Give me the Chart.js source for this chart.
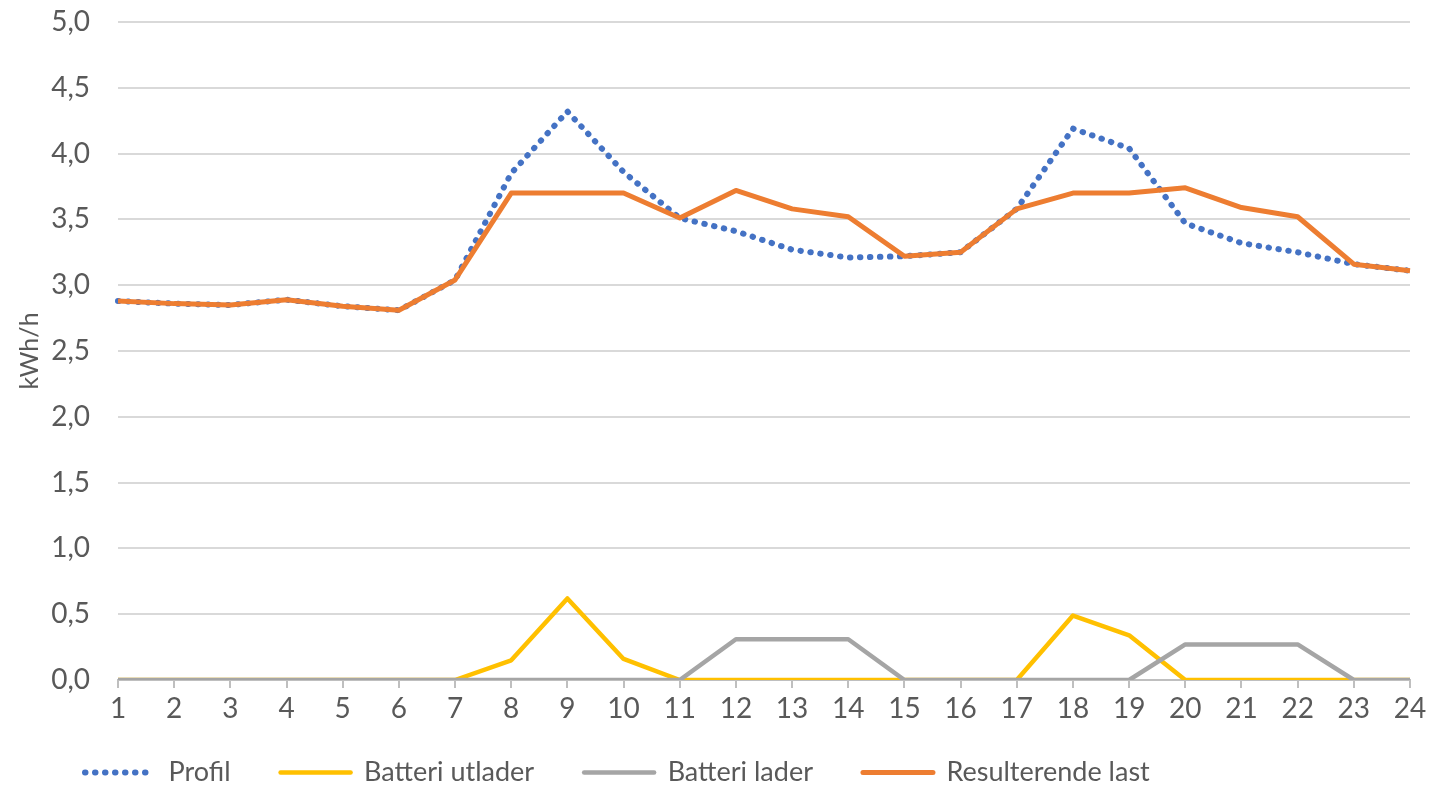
<!DOCTYPE html>
<html>
<head>
<meta charset="utf-8">
<script src="https://cdn.jsdelivr.net/npm/chart.js@4/dist/chart.umd.min.js"></script>
<style>
  body { margin: 0; background: #fff; }
</style>
</head>
<body>
<canvas id="chart" width="1432" height="792"></canvas>
<script>
const hours = ["1","2","3","4","5","6","7","8","9","10","11","12","13","14","15","16","17","18","19","20","21","22","23","24"]

const profil = [2.88, 2.86, 2.85, 2.89, 2.84, 2.81, 3.04, 3.85, 4.32, 3.86, 3.51, 3.41, 3.27, 3.21, 3.22, 3.25, 3.58, 4.19, 4.04, 3.47, 3.32, 3.25, 3.16, 3.11]
const batteriUtlader = [0, 0, 0, 0, 0, 0, 0, 0.15, 0.62, 0.16, 0, 0, 0, 0, 0, 0, 0, 0.49, 0.34, 0, 0, 0, 0, 0]
const batteriLader = [0, 0, 0, 0, 0, 0, 0, 0, 0, 0, 0, 0.31, 0.31, 0.31, 0, 0, 0, 0, 0, 0.27, 0.27, 0.27, 0, 0]
const resulterendeLast = [2.88, 2.86, 2.85, 2.89, 2.84, 2.81, 3.04, 3.70, 3.70, 3.70, 3.51, 3.72, 3.58, 3.52, 3.22, 3.25, 3.58, 3.70, 3.70, 3.74, 3.59, 3.52, 3.16, 3.11]

const yTicks = [0, 0.5, 1, 1.5, 2, 2.5, 3, 3.5, 4, 4.5, 5]

const textColor = "#595959"
const fontName = "Lato"

Chart.defaults.font.family = fontName
Chart.defaults.color = textColor

let datasets = [
    {
        label: "Profil",
        data: profil,
        borderColor: "#4472C4",
        backgroundColor: "#4472C4",
        borderWidth: 6,
        borderDash: [0.5, 9.5],
        borderCapStyle: "round",
        order: 4
    },
    {
        label: "Batteri utlader",
        data: batteriUtlader,
        borderColor: "#FFC000",
        backgroundColor: "#FFC000",
        borderWidth: 4.5,
        order: 3
    },
    {
        label: "Batteri lader",
        data: batteriLader,
        borderColor: "#A5A5A5",
        backgroundColor: "#A5A5A5",
        borderWidth: 4.5,
        order: 2
    },
    {
        label: "Resulterende last",
        data: resulterendeLast,
        borderColor: "#ED7D31",
        backgroundColor: "#ED7D31",
        borderWidth: 5,
        order: 1
    }
]

new Chart(document.getElementById("chart"), {
    type: "line",
    data: { labels: hours, datasets: datasets },
    options: {
        responsive: false,
        animation: false,
        layout: { padding: { left: 35, right: 22, top: 22, bottom: 0 } },
        elements: {
            point: { radius: 0 },
            line: { tension: 0, borderJoinStyle: "round", fill: false }
        },
        plugins: {
            tooltip: { enabled: false },
            legend: {
                position: "bottom",
                align: "start",
                maxHeight: 83,
                labels: {
                    usePointStyle: true,
                    pointStyleWidth: 70,
                    padding: 50,
                    font: { size: 27 },
                    color: textColor,
                    generateLabels: chart => chart.data.datasets.map((ds, i) => ({
                        text: ds.label,
                        fontColor: textColor,
                        fillStyle: ds.borderColor,
                        strokeStyle: ds.borderColor,
                        lineWidth: ds.borderWidth,
                        lineDash: ds.borderDash || [],
                        lineCap: ds.borderCapStyle || "round",
                        pointStyle: "line",
                        hidden: false,
                        datasetIndex: i
                    }))
                }
            }
        },
        scales: {
            x: {
                offset: false,
                grid: {
                    display: true,
                    drawOnChartArea: false,
                    drawTicks: true,
                    tickLength: 8,
                    color: "#BFBFBF",
                    lineWidth: 2,
                    offset: false
                },
                border: { display: true, color: "#BFBFBF", width: 2 },
                ticks: { font: { size: 28 }, color: textColor, padding: 4, maxRotation: 0, autoSkip: false },
                afterFit: scale => {
                    scale.height = 29
                    // labels reach below the short axis box, so don't clip them
                    scale._computeLabelArea = () => undefined
                }
            },
            y: {
                min: 0,
                max: 5,
                afterBuildTicks: scale => { scale.ticks = yTicks.map(v => ({ value: v })) },
                grid: { color: "#D9D9D9", lineWidth: 2, drawTicks: false },
                border: { display: false },
                ticks: {
                    font: { size: 28 },
                    color: textColor,
                    padding: 28,
                    callback: v => v.toFixed(1).replace(".", ",")
                },
                title: {
                    display: true,
                    text: "kWh/h",
                    font: { size: 25 },
                    color: textColor,
                    padding: { top: -20, bottom: 0 }
                },
                afterFit: scale => {
                    scale.width = 83
                    scale.paddingTop = 0
                    scale.paddingBottom = 0
                }
            }
        }
    }
})
</script>
</body>
</html>
